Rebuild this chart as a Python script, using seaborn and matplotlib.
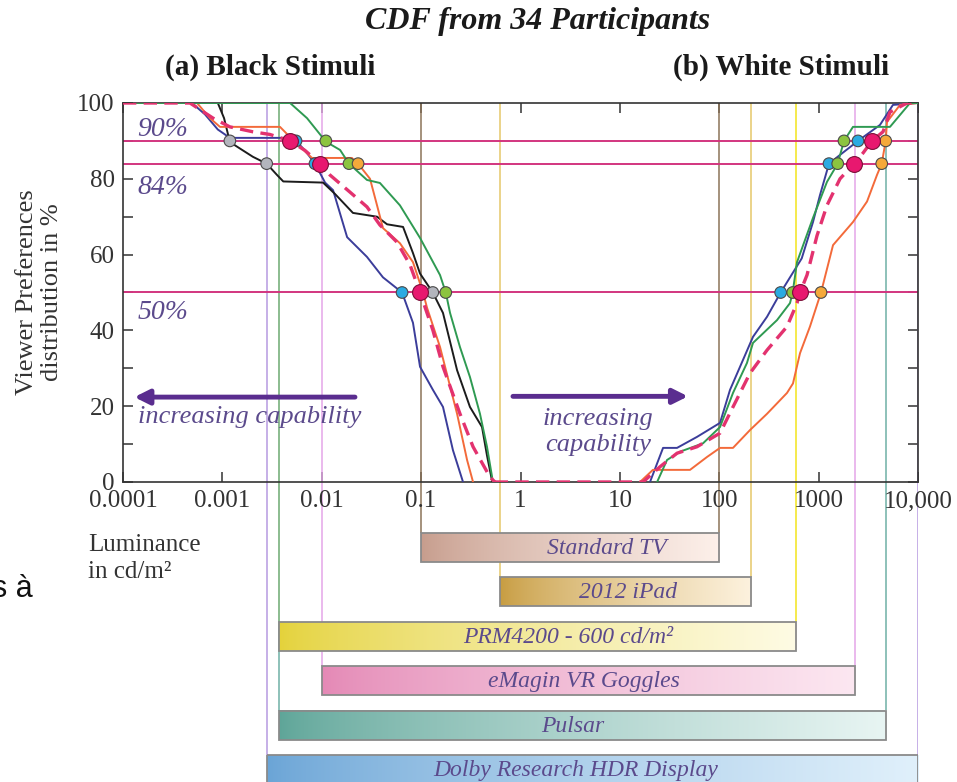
import numpy as np
import pandas as pd
import matplotlib
matplotlib.use("Agg")
import matplotlib.pyplot as plt
from matplotlib.patches import Rectangle
from matplotlib.colors import to_rgb
import seaborn as sns

# ---------------- data ----------------
x_ticks = [1e-4, 1e-3, 1e-2, 1e-1, 1, 10, 100, 1000, 10000]
x_tick_labels = ["0.0001", "0.001", "0.01", "0.1", "1", "10", "100", "1000", "10,000"]
y_ticks = [0, 20, 40, 60, 80, 100]
y_minor_ticks = [10, 30, 50, 70, 90]
ref_levels = [90, 84, 50]

# (a) black stimuli: cumulative preference vs. luminance (cd/m^2)
black_blue_lum = [1e-4, 0.000494, 0.000668, 0.0009, 0.00119, 0.0048, 0.00551, 0.00677,
                  0.00855, 0.0108, 0.013, 0.018, 0.0285, 0.0413, 0.0643, 0.0828, 0.0975,
                  0.1315, 0.166, 0.209, 0.264]
black_blue_pct = [100, 100, 97, 93, 90.8, 90.8, 90, 87.5, 84, 79, 77, 64.6, 59.4, 54, 50,
                  42, 30.4, 24.3, 19.8, 8.4, 0]

black_black_lum = [1e-4, 0.0009, 0.00104, 0.00119, 0.0015, 0.00203, 0.00279, 0.00355, 0.0041,
                   0.0103, 0.0136, 0.0206, 0.036, 0.0454, 0.0658, 0.0828, 0.0975, 0.131,
                   0.166, 0.23, 0.31, 0.41, 0.46, 0.52]
black_black_pct = [100, 100, 96, 89.7, 88, 85.8, 84, 81, 79.3, 79, 76, 71, 70, 68, 67.3,
                   60.4, 55, 50, 44.6, 29.5, 19.8, 14.5, 7, 0]

black_orange_lum = [1e-4, 0.000556, 0.00075, 0.000946, 0.0038, 0.0048, 0.00604, 0.00798,
                    0.0201, 0.0232, 0.0306, 0.036, 0.0413, 0.0612, 0.0828, 0.1045, 0.1146,
                    0.155, 0.23, 0.29, 0.333]
black_orange_pct = [100, 100, 96, 93.7, 93.7, 91, 88.5, 85.5, 85.5, 84, 80, 73, 67, 63, 58,
                    50, 46, 35.6, 18, 5.8, 0]

black_green_lum = [1e-4, 0.0048, 0.00711, 0.011, 0.0153, 0.0188, 0.0285, 0.0385, 0.0612,
                   0.0975, 0.155, 0.177, 0.1955, 0.246, 0.31, 0.391, 0.46, 0.528]
black_green_pct = [100, 100, 96, 89.8, 87.6, 84, 79.7, 78.9, 73, 64.4, 54.6, 50, 44.6, 35.6,
                   27.7, 18, 9.3, 0]

black_mean_lum = [1e-4, 0.000472, 0.000806, 0.00119, 0.00203, 0.00301, 0.0048, 0.00677,
                  0.0096, 0.0121, 0.0192, 0.0285, 0.0385, 0.0571, 0.0773, 0.0975, 0.1315,
                  0.166, 0.246, 0.333, 0.493, 0.553]
black_mean_pct = [100, 100, 96, 93.7, 92.4, 91.7, 90, 87.5, 84, 81, 76.5, 72.6, 67.8, 63.3,
                  57.3, 50, 40, 30.4, 18, 9.3, 1.3, 0]

# (b) white stimuli
white_blue_lum = [20.1, 27.2, 37.6, 59.7, 101.8, 128.3, 161.8, 218.6, 302.6, 415, 676, 878,
                  1032, 1272, 1641, 2489, 4140, 5598, 10000]
white_blue_pct = [0, 9, 9, 11.9, 15.6, 24.3, 30.4, 38.3, 43.6, 50, 59, 68.6, 75.7, 84, 86.3,
                  90, 94.2, 99.5, 100]

white_orange_lum = [15.95, 21.5, 50.8, 75.3, 101.8, 137.5, 203.8, 302.6, 480.6, 552, 650, 818,
                    1057, 1396, 2217, 3069, 3865, 4314, 4731, 4876, 6592, 10000]
white_orange_pct = [0, 3.2, 3.2, 6.6, 9, 9, 13.7, 18, 23.5, 26, 34, 41, 50, 62.5, 68.6, 74,
                    81, 84, 90, 95, 99.5, 100]

white_green_lum = [23.7, 29.8, 40.3, 68.6, 101.8, 137.5, 190, 218.6, 381, 515, 548, 606, 878,
                   1214, 1556, 1799, 2217, 5224, 8318, 10000]
white_green_pct = [0, 5.8, 8, 10.2, 14.5, 23.5, 31.4, 36.7, 42.7, 47.2, 50, 58, 69.7, 79.2,
                   84, 90, 93.7, 93.7, 100, 100]

white_mean_lum = [0.55, 17.1, 25.3, 37.6, 59.7, 101.8, 137.5, 203.8, 302.6, 480.6, 606, 650,
                  764, 963, 1214, 1641, 2270, 2798, 3444, 4446, 5224, 7745, 10000]
white_mean_pct = [0, 0, 4, 7.6, 9.3, 12.9, 19.8, 28.7, 34.8, 41, 47.2, 50, 54.6, 65, 73, 80,
                  84, 86.8, 90, 92.4, 97.6, 100, 100]

# threshold crossings (luminance at 90 / 84 / 50 %)
marker_curve = ["black", "mean", "blue", "green",
                "black", "blue", "mean", "green", "orange",
                "blue", "mean", "black", "green",
                "blue", "green", "mean", "orange",
                "blue", "green", "mean", "orange",
                "green", "blue", "mean", "orange"]
marker_pct = [90, 90, 90, 90,
              84, 84, 84, 84, 84,
              50, 50, 50, 50,
              50, 50, 50, 50,
              84, 84, 84, 84,
              90, 90, 90, 90]
marker_lum = [0.00119, 0.0048, 0.00551, 0.011,
              0.00279, 0.00855, 0.0096, 0.0188, 0.0232,
              0.0643, 0.0975, 0.131, 0.177,
              415, 548, 650, 1057,
              1272, 1556, 2270, 4314,
              1799, 2489, 3444, 4731]

# display luminance ranges (cd/m^2)
display_names = ["Standard TV", "2012 iPad", "PRM4200 - 600 cd/m²", "eMagin VR Goggles",
                 "Pulsar", "Dolby Research HDR Display"]
display_min = [0.1, 0.62, 0.0037, 0.01, 0.0037, 0.0028]
display_max = [100, 210, 590, 2350, 4800, 10000]

# ---------------- style ----------------
sns.set_style("ticks")
plt.rcParams["font.family"] = ["Liberation Serif", "DejaVu Serif"]

line_colors = {"blue": "#3b3d9a", "black": "#1c1c1c", "orange": "#f36a3a",
               "green": "#2f9a52", "mean": "#e3326f"}
marker_colors = {"blue": "#2aaae2", "black": "#b3b5bd", "orange": "#f5a93a",
                 "green": "#8cc43f", "mean": "#e8186f"}
display_line_colors = ["#8c7458", "#e6c86a", "#f2e41c", "#e4a6e8", "#6fb0a6", "#b79ae0"]
bar_left = ["#c69c8c", "#c79c40", "#e4d23a", "#e488b5", "#5ea598", "#6aa4d6"]
bar_right = ["#fdf0ea", "#fdf2de", "#fefbe4", "#fce7f1", "#e8f5f3", "#e0f0fb"]
text_purple = "#5b4a8c"
arrow_purple = "#5a2d8f"

W, H = 957, 782
fig = plt.figure(figsize=(W / 100, H / 100), dpi=100)
ax = fig.add_axes([123 / W, 1 - 482 / H, 795 / W, 379 / H])
ax2 = fig.add_axes([123 / W, 0, 795 / W, 300 / H])
ax.set_zorder(2)
ax2.set_zorder(1)

ax.set_xscale("log")
ax.set_xlim(1e-4, 1e4)
ax.set_ylim(0, 100)

# display range boundaries
for lo, hi, c in zip(display_min, display_max, display_line_colors):
    ax.axvline(lo, color=c, lw=1.1, zorder=1)
    ax.axvline(hi, color=c, lw=1.1, zorder=1)

for lv in ref_levels:
    ax.axhline(lv, color="#d2357f", lw=1.4, zorder=2)

# CDF curves
curves = [
    ("blue", black_blue_lum, black_blue_pct), ("black", black_black_lum, black_black_pct),
    ("orange", black_orange_lum, black_orange_pct), ("green", black_green_lum, black_green_pct),
    ("blue", white_blue_lum, white_blue_pct), ("orange", white_orange_lum, white_orange_pct),
    ("green", white_green_lum, white_green_pct),
    ("mean", black_mean_lum, black_mean_pct), ("mean", white_mean_lum, white_mean_pct),
]
for name, lum, pct in curves:
    df = pd.DataFrame({"lum": lum, "pct": pct})
    if name == "mean":
        sns.lineplot(data=df, x="lum", y="pct", color=line_colors[name], lw=2.4,
                     linestyle=(0, (4.0, 2.2)), sort=False, estimator=None, ax=ax, zorder=4)
    else:
        sns.lineplot(data=df, x="lum", y="pct", color=line_colors[name], lw=1.4,
                     sort=False, estimator=None, ax=ax, zorder=3)

mk = pd.DataFrame({"curve": marker_curve, "pct": marker_pct, "lum": marker_lum})
small = mk[mk.curve != "mean"]
big = mk[mk.curve == "mean"]
sns.scatterplot(data=small, x="lum", y="pct", hue="curve", palette=marker_colors, s=70,
                edgecolor="#4a4a4a", linewidth=0.8, legend=False, ax=ax, zorder=5)
sns.scatterplot(data=big, x="lum", y="pct", color=marker_colors["mean"], s=130,
                edgecolor="#7a1038", linewidth=0.8, legend=False, ax=ax, zorder=6)

# axes styling
ax.set_xticks(x_ticks)
ax.set_xticklabels(x_tick_labels)
ax.minorticks_off()
ax.set_yticks(y_ticks)
ax.set_yticks(y_minor_ticks, minor=True)
ax.tick_params(which="both", direction="in", length=7, width=1.1, top=True, right=True,
               labelsize=18, colors="#333333", pad=6)
ax.tick_params(axis="x", which="minor", bottom=False, top=False)
for s in ax.spines.values():
    s.set_color("#333333")
    s.set_linewidth(1.2)
ax.set_xlabel("")
ax.set_ylabel("Viewer Preferences\ndistribution in %", fontsize=19, color="#333333",
              linespacing=1.2, labelpad=10)

# in-plot annotations
for lv, yt in zip(["90%", "84%", "50%"], [93.0, 77.8, 44.6]):
    ax.text(1.4e-4, yt, lv, fontsize=20, style="italic", color=text_purple,
            ha="left", va="center", zorder=7)

ax.annotate("", xy=(1.3e-4, 22.4), xytext=(0.0216, 22.4),
            arrowprops=dict(arrowstyle="-|>", lw=3.5, color=arrow_purple,
                            mutation_scale=22, shrinkA=0, shrinkB=0), zorder=7)
ax.text(1.4e-4, 17.2, "increasing capability", fontsize=19, style="italic",
        color=text_purple, ha="left", va="center", zorder=7)
ax.annotate("", xy=(48.5, 22.6), xytext=(0.84, 22.6),
            arrowprops=dict(arrowstyle="-|>", lw=3.5, color=arrow_purple,
                            mutation_scale=22, shrinkA=0, shrinkB=0), zorder=7)
ax.text(6.0, 13.2, "increasing\ncapability", fontsize=19, style="italic",
        color=text_purple, ha="center", va="center", linespacing=1.25, zorder=7)

# display range bars (log10 luminance on a linear axis)
ax2.set_xlim(-4, 4)
ax2.set_ylim(300, 0)
ax2.axis("off")
bar_top0, bar_step, bar_h = 51, 44.4, 29
label_centers = [7.4, 12.0, 3.0, 4.35, 3.37, 3.6]
for i, (name, lo, hi) in enumerate(zip(display_names, display_min, display_max)):
    top = bar_top0 + i * bar_step
    x0, x1 = np.log10(lo), np.log10(hi)
    ax2.vlines([x0, x1], 0, top, color=display_line_colors[i], lw=1.1, zorder=1)
    t = np.linspace(0, 1, 256) ** 0.75
    c0, c1 = np.array(to_rgb(bar_left[i])), np.array(to_rgb(bar_right[i]))
    grad = (c0[None, :] * (1 - t[:, None]) + c1[None, :] * t[:, None])[None, :, :]
    ax2.imshow(grad, extent=(x0, x1, top + bar_h, top), aspect="auto",
               interpolation="bilinear", zorder=2)
    ax2.add_patch(Rectangle((x0, top), x1 - x0, bar_h, fill=False, ec="#8a8a8a",
                            lw=1.3, zorder=3))
    ax2.text(np.log10(label_centers[i]), top + bar_h / 2 + 1, name, fontsize=17,
             style="italic", color=text_purple, ha="center", va="center", zorder=4)

# headings and side labels
fig.text(538 / W, 1 - 21 / H, "CDF from 34 Participants", fontsize=23, weight="bold",
         style="italic", ha="center", va="center", color="#1a1a1a")
fig.text(270 / W, 1 - 67 / H, "(a) Black Stimuli", fontsize=21, weight="bold",
         ha="center", va="center", color="#1a1a1a")
fig.text(781 / W, 1 - 67 / H, "(b) White Stimuli", fontsize=21, weight="bold",
         ha="center", va="center", color="#1a1a1a")
fig.text(88 / W, 1 - 534 / H, "Luminance\nin cd/m²", fontsize=18, ha="left", va="top",
         color="#333333", linespacing=1.3)
fig.text(33 / W, 1 - 589 / H, "s à", fontsize=22, family="Liberation Sans",
         ha="right", va="center", color="#111111")

fig.savefig("out.png", dpi=100)
